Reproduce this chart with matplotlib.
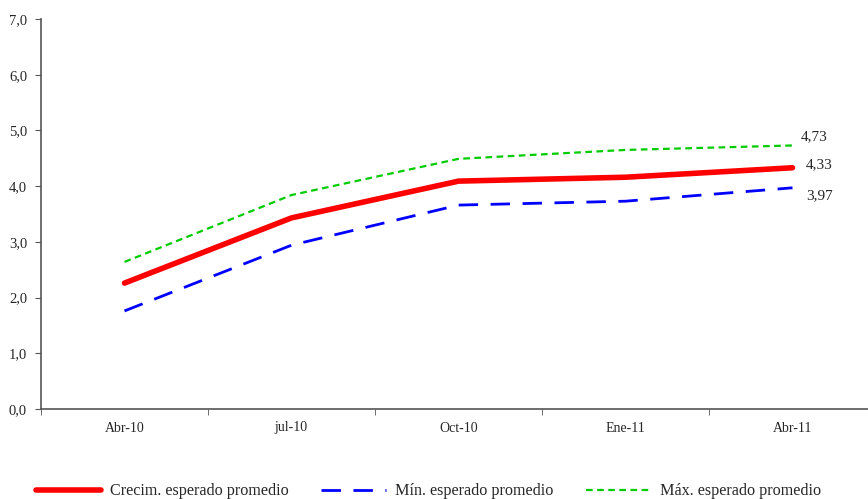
import matplotlib
matplotlib.use("Agg")
import matplotlib.pyplot as plt
import numpy as np

plt.rcParams["font.family"] = ["Liberation Serif", "DejaVu Serif"]

categories = ["Abr-10", "jul-10", "Oct-10", "Ene-11", "Abr-11"]
promedio = [2.26, 3.43, 4.09, 4.16, 4.33]
minimo = [1.76, 2.94, 3.66, 3.73, 3.97]
maximo = [2.64, 3.84, 4.49, 4.65, 4.73]

text_color = "#262626"

fig = plt.figure(figsize=(8.68, 4.99), dpi=100)
ax = fig.add_axes([41 / 868, (499 - 409) / 499, (876 - 41) / 868, (409 - 19) / 499])

x = np.arange(len(categories))
ax.plot(x, promedio, color="#ff0000", lw=4, solid_capstyle="round",
        label="Crecim. esperado promedio")
ax.plot(x, minimo, color="#0000ff", lw=2, dashes=(7, 4.5),
        label="Mín. esperado promedio")
ax.plot(x, maximo, color="#00cc00", lw=1.6, dashes=(3, 2),
        label="Máx. esperado promedio")

# labels on the last point
ax.text(x[-1] + 0.05, maximo[-1] + 0.15, f"{maximo[-1]:.2f}".replace(".", ","),
        fontsize=11, color=text_color, va="center")
ax.text(x[-1] + 0.08, promedio[-1] + 0.05, f"{promedio[-1]:.2f}".replace(".", ","),
        fontsize=11, color=text_color, va="center")
ax.text(x[-1] + 0.08, minimo[-1] - 0.15, f"{minimo[-1]:.2f}".replace(".", ","),
        fontsize=11, color=text_color, va="center")

ax.set_ylim(0, 7)
ax.set_xlim(-0.5, 4.5)
ax.set_yticks(np.arange(0, 8, 1))
ax.set_yticklabels([f"{v:.1f}".replace(".", ",") for v in np.arange(0, 8, 1)])
ax.set_xticks(x)
ax.set_xticklabels(categories)
ax.set_xticks(np.arange(-0.5, 5, 1), minor=True)
ax.tick_params(axis="x", which="major", length=0, pad=9, labelsize=10, colors=text_color)
ax.tick_params(axis="x", which="minor", length=4, direction="out", color="#555555")
ax.tick_params(axis="y", length=4, direction="out", pad=6, labelsize=10.5,
               colors=text_color, color="#555555")

for side in ["top", "right"]:
    ax.spines[side].set_visible(False)
for side in ["left", "bottom"]:
    ax.spines[side].set_color("#555555")
    ax.spines[side].set_linewidth(1.2)

fig.legend(loc="lower center", bbox_to_anchor=(0.494, -0.03), ncol=3, frameon=False,
           fontsize=11.6, handlelength=4.0, handletextpad=0.6, columnspacing=2.0,
           labelcolor=text_color)

fig.savefig("out.png", dpi=100)
